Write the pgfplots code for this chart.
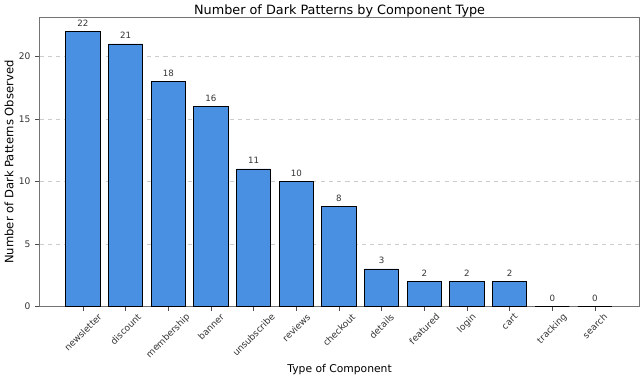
\documentclass[border=0pt]{standalone}
\usepackage{pgfplots}
\pgfplotsset{compat=1.18}
\usepackage{fontspec}
\setmainfont{DejaVu Sans}
\definecolor{barblue}{HTML}{4A90E2}
\begin{document}
\begin{tikzpicture}
\begin{axis}[
  scale only axis,
  width=435.6pt, height=209.5pt,
  ybar, bar width=0.8,
  xmin=-1.02, xmax=13.05,
  ymin=0, ymax=23.1,
  xtick={0,...,12},
  xticklabels={\rotatebox{45}{newsletter},\rotatebox{45}{discount},\rotatebox{45}{membership},\rotatebox{45}{banner},\rotatebox{45}{unsubscribe},\rotatebox{45}{reviews},\rotatebox{45}{checkout},\rotatebox{45}{details},\rotatebox{45}{featured},\rotatebox{45}{login},\rotatebox{45}{cart},\rotatebox{45}{tracking},\rotatebox{45}{search}},
  x tick label style={font=\fontsize{6.6}{7}\selectfont, anchor=north, text=black!80, inner sep=1.5pt},
  y tick label style={font=\fontsize{6.6}{7}\selectfont, text=black!80},
  ytick={0,5,10,15,20},
  /pgf/number format/assume math mode=true,
  tick align=outside, tick pos=left,
  major tick length=3pt,
  tick style={black!70},
  axis line style={black!55},
  ymajorgrids, grid style={dashed, black!20, line width=0.4pt},
  title={Number of Dark Patterns by Component Type},
  title style={font=\fontsize{9.3}{10}\selectfont, yshift=-9pt},
  xlabel={Type of Component}, ylabel={Number of Dark Patterns Observed},
  xlabel style={font=\fontsize{7.8}{9}\selectfont, yshift=1.5pt},
  ylabel style={font=\fontsize{8.4}{9}\selectfont, yshift=-3pt},
  nodes near coords,
  nodes near coords style={font=\fontsize{6.3}{7}\selectfont, text=black!80},
  enlarge x limits=false,
]
\addplot[fill=barblue, draw=black, line width=0.6pt] coordinates {
(0,22) (1,21) (2,18) (3,16) (4,11) (5,10) (6,8) (7,3) (8,2) (9,2) (10,2) (11,0) (12,0)};
\end{axis}
\end{tikzpicture}
\end{document}
